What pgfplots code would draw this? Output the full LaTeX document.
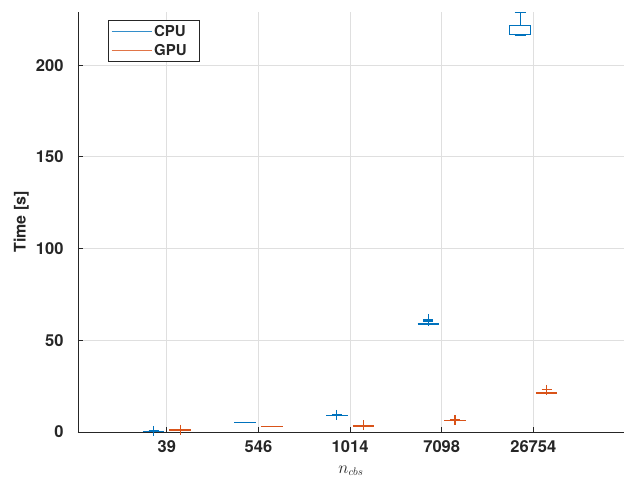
\documentclass[border=0pt]{standalone}
\usepackage{fontspec}
\setmainfont{TeX Gyre Heros}
\usepackage{pgfplots}
\pgfplotsset{compat=1.18}
\definecolor{cpu}{HTML}{0072BD}
\definecolor{gpu}{HTML}{D95319}
\definecolor{axc}{HTML}{262626}
\definecolor{gridc}{HTML}{DFDFDF}
\begin{document}
\begin{tikzpicture}
\path[use as bounding box] (-78pt,-47pt) rectangle (547pt,432pt);
\begin{axis}[
 at={(0pt,0pt)}, anchor=south west,
 scale only axis, width=546pt, height=420pt,
 xmin=0.03, xmax=5.99, ymin=0, ymax=229,
 axis x line=bottom, axis y line=left,
 axis line style={-, axc, line width=0.8pt},
 xtick={1,2,3,4,5}, xticklabels={39,546,1014,7098,26754},
 ytick={0,50,100,150,200},
 tick align=inside, major tick length=5pt,
 tick style={axc, line width=0.8pt},
 grid=major, major grid style={gridc, line width=0.8pt},
 /pgf/number format/assume math mode=true,
 ticklabel style={font=\fontsize{16.5}{20}\selectfont\bfseries, text=axc},
 xticklabel style={yshift=-5pt},
 yticklabel style={xshift=-11pt},
 xlabel={$n_{cbs}$},
 xlabel style={at={(axis description cs:0.5,-0.092)}, anchor=center, font=\fontsize{16}{19}\selectfont, text=axc},
 ylabel={Time [s]},
 ylabel style={at={(axis description cs:-0.104,0.5)}, anchor=center, font=\fontsize{16}{19}\selectfont\bfseries, text=axc},
 legend style={at={(axis description cs:0.055,0.981)}, anchor=north west, draw=axc, line width=0.6pt,
   font=\fontsize{15}{18}\selectfont\bfseries, text=axc, inner xsep=3pt, inner ysep=3pt, row sep=2pt},
 legend cell align=left,
 legend image code/.code={\draw[#1] (0pt,0pt) -- (40pt,0pt);},
 unbounded coords=jump,
]
\addlegendimage{cpu!80, line width=0.8pt}
\addlegendentry{\makebox[40pt][l]{CPU}}
\addlegendimage{gpu!80, line width=0.8pt}
\addlegendentry{\makebox[40pt][l]{GPU}}
% CPU: collapsed boxes (median lines)
\addplot[forget plot, cpu, line width=1.6pt] coordinates {
 (0.7375,0.2) (0.9725,0.2) (nan,nan)
 (1.7375,5.2) (1.9725,5.2) (nan,nan)
 (2.7375,8.9) (2.9725,8.9) (nan,nan)
 (3.7375,59.0) (3.9725,59.0)
};
% CPU: 26754 box, median, whiskers, caps
\addplot[forget plot, cpu, line width=1pt] coordinates {
 (4.7375,216.7) (4.9725,216.7) (4.9725,221.4) (4.7375,221.4) (4.7375,216.7) (nan,nan)
 (4.7375,216.9) (4.9725,216.9) (nan,nan)
 (4.855,221.4) (4.855,228.6) (nan,nan)
 (4.795,228.6) (4.915,228.6) (nan,nan)
 (4.795,216.0) (4.915,216.0)
};
% CPU outliers
\addplot[forget plot, cpu, only marks, mark=+, mark size=5pt, line width=1.2pt] coordinates {
 (0.855,0.6) (2.855,9.3) (3.855,60.3) (3.855,60.8) (3.855,61.5)
};
% GPU: collapsed boxes (median lines)
\addplot[forget plot, gpu, line width=1.6pt] coordinates {
 (1.0275,1.05) (1.2625,1.05) (nan,nan)
 (2.0275,3.1) (2.2625,3.1) (nan,nan)
 (3.0275,3.4) (3.2625,3.4) (nan,nan)
 (4.0275,6.3) (4.2625,6.3) (nan,nan)
 (5.0275,21.3) (5.2625,21.3)
};
% GPU outliers
\addplot[forget plot, gpu, only marks, mark=+, mark size=5pt, line width=1.2pt] coordinates {
 (1.145,1.3) (3.145,3.7) (4.145,6.6) (5.145,23.0)
};
\end{axis}
\end{tikzpicture}
\end{document}
